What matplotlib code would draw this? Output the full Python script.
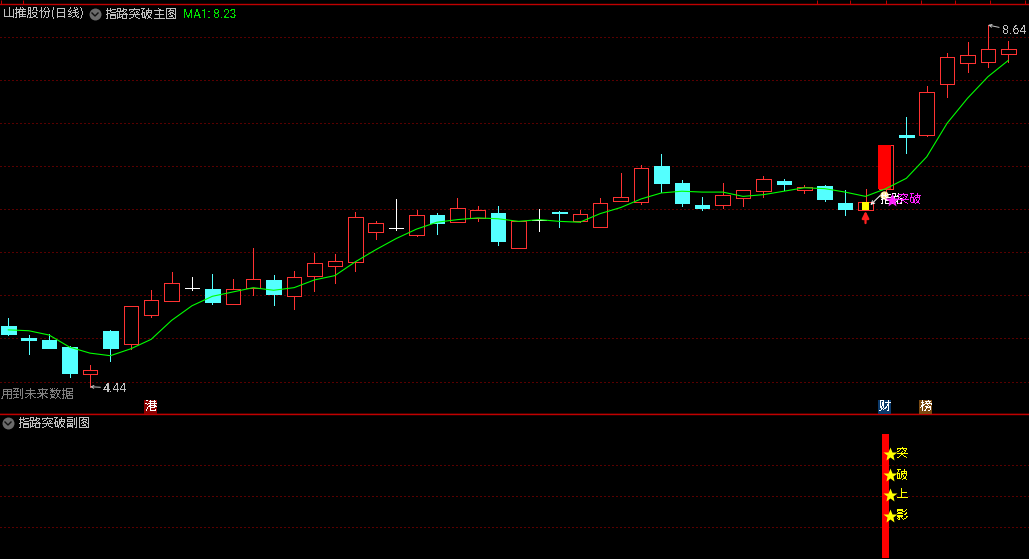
import matplotlib
matplotlib.use("Agg")
import matplotlib.pyplot as plt
from matplotlib.patches import Rectangle

plt.rcParams['font.family'] = ['Noto Sans CJK SC', 'DejaVu Sans']
plt.rcParams['text.antialiased'] = False

# =========================
# DATA
# =========================
opens = [5.15, 5.00, 4.98, 4.90, 4.59, 5.09, 4.94, 5.27, 5.44, 5.59,
         5.57, 5.40, 5.59, 5.68, 5.49, 5.73, 5.84, 5.89, 6.24, 6.28,
         6.20, 6.43, 6.35, 6.40, 6.46, 6.05, 6.38, 6.47, 6.36, 6.29,
         6.60, 6.58, 7.00, 6.80, 6.55, 6.55, 6.63, 6.71, 6.83, 6.72,
         6.77, 6.57, 6.49, 6.74, 7.36, 7.36, 7.95, 8.20, 8.21, 8.30]
highs = [5.24, 5.04, 5.05, 4.91, 4.69, 5.10, 5.38, 5.56, 5.77, 5.71,
         5.75, 5.69, 6.05, 5.74, 5.78, 5.99, 5.98, 6.47, 6.36, 6.62,
         6.49, 6.46, 6.63, 6.54, 6.54, 6.36, 6.50, 6.48, 6.49, 6.63,
         6.92, 7.01, 7.14, 6.84, 6.64, 6.80, 6.72, 6.89, 6.85, 6.78,
         6.78, 6.72, 6.74, 7.25, 7.57, 7.93, 8.31, 8.44, 8.64, 8.45]
lows = [5.04, 4.82, 4.89, 4.55, 4.44, 4.74, 4.88, 5.25, 5.44, 5.56,
        5.40, 5.40, 5.50, 5.39, 5.34, 5.55, 5.64, 5.78, 6.16, 6.26,
        6.19, 6.21, 6.35, 6.36, 6.09, 6.05, 6.25, 6.30, 6.35, 6.29,
        6.60, 6.56, 6.70, 6.54, 6.49, 6.51, 6.54, 6.64, 6.72, 6.69,
        6.60, 6.43, 6.49, 6.70, 7.15, 7.35, 7.80, 8.09, 8.15, 8.21]
closes = [5.05, 4.98, 4.89, 4.60, 4.63, 4.89, 5.38, 5.45, 5.64, 5.59,
          5.42, 5.57, 5.69, 5.52, 5.71, 5.88, 5.90, 6.41, 6.34, 6.28,
          6.43, 6.34, 6.52, 6.49, 6.13, 6.36, 6.38, 6.46, 6.45, 6.57,
          6.64, 6.98, 6.80, 6.57, 6.51, 6.67, 6.72, 6.85, 6.79, 6.76,
          6.62, 6.50, 6.58, 7.25, 7.34, 7.86, 8.27, 8.29, 8.36, 8.36]
ma1 = [5.10, 5.09, 5.04, 4.90, 4.83, 4.80, 4.88, 4.99, 5.21, 5.38,
       5.49, 5.54, 5.59, 5.56, 5.59, 5.68, 5.73, 5.89, 6.03, 6.16,
       6.27, 6.35, 6.38, 6.40, 6.39, 6.36, 6.38, 6.36, 6.35, 6.45,
       6.52, 6.62, 6.69, 6.71, 6.70, 6.70, 6.65, 6.67, 6.71, 6.75,
       6.74, 6.70, 6.65, 6.74, 6.86, 7.11, 7.50, 7.79, 8.04, 8.23]

price_grid = [4.5, 5.0, 5.5, 6.0, 6.5, 7.0, 7.5, 8.0, 8.5]
date_ticks = [-0.36, 0.72, 39.6, 41.25, 43.0, 44.7, 46.4, 48.1, 49.8]

signal_day = 42
big_day = 43
sub_grid = [25, 50, 75]
sub_bar = [0, 100]
star_levels = [84, 67, 51, 34]
star_labels = ["突", "破", "上", "影"]

# =========================
# COLORS
# =========================
BG = "#000000"
RED = "#FF3232"
CYAN = "#54FFFF"
GREEN = "#00FF00"
GRID = "#B00000"
FRAME = "#C00000"
GREY = "#C0C0C0"
PX = 0.72


def dotted(a, level):
    # one pixel on, three off, drawn smooth so the dots stay separate
    a.axhline(level, color=GRID, lw=PX, ls=(0, (1, 3)), zorder=1)


fig = plt.figure(figsize=(10.29, 5.59), dpi=100, facecolor=BG)
ax = fig.add_axes([0, 145 / 559, 1, 410 / 559], facecolor=BG)
sub = fig.add_axes([0, 0, 1, 145 / 559], facecolor=BG)
over = fig.add_axes([0, 0, 1, 1], facecolor="none")

for a in (ax, sub):
    a.set_xlim(-0.407, 50.01)
    a.set_yticks([])
    for s in a.spines.values():
        s.set_visible(False)
    a.set_xticks([])

# =========================
# MAIN PANEL
# =========================
ax.set_ylim(4.123, 8.884)
for side in ("top", "bottom"):
    ax.spines[side].set_visible(True)
    ax.spines[side].set_color(FRAME)
    ax.spines[side].set_linewidth(1.0)
ax.xaxis.tick_top()
ax.set_xticks(date_ticks)
ax.set_xticklabels([])
ax.tick_params(axis="x", color=FRAME, length=3, width=PX, direction="out")

for level in price_grid:
    dotted(ax, level)

BODY = 14.5 / 20.41
for i in range(len(opens)):
    o, h, l, c = opens[i], highs[i], lows[i], closes[i]
    if c == o:
        col = "#FFFFFF"
    elif c > o:
        col = RED
    else:
        col = CYAN
    ax.vlines(i, l, h, color=col, lw=PX, antialiased=False, zorder=2)
    if c == o:
        ax.hlines(c, i - BODY / 2, i + BODY / 2, color=col, lw=PX, antialiased=False, zorder=3)
    elif c > o:
        ax.bar(i, c - o, BODY, bottom=o, facecolor=BG, edgecolor=col, lw=PX,
               antialiased=False, zorder=3)
    else:
        ax.bar(i, o - c, BODY, bottom=c, facecolor=col, edgecolor=col, lw=PX,
               antialiased=False, zorder=3)

# filled signal candles
ax.bar(big_day - 0.06, closes[big_day] - opens[big_day], 12.5 / 20.41, bottom=opens[big_day],
       color="#FF0000", antialiased=False, zorder=4)
ax.bar(signal_day, closes[signal_day] - opens[signal_day], 7 / 20.41, bottom=opens[signal_day],
       color="#FFFF00", antialiased=False, zorder=4)

ax.plot(range(len(ma1)), ma1, color=GREEN, lw=0.8, zorder=5)

# high / low labels
low_i = lows.index(min(lows))
high_i = highs.index(max(highs))
ax.annotate(f"{lows[low_i]:.2f}", xy=(low_i, lows[low_i]), xytext=(9.5, -1), textcoords="offset points",
            color=GREY, fontsize=9, family="Roboto", va="center",
            arrowprops=dict(arrowstyle="->", color=GREY, lw=PX, shrinkA=0, shrinkB=0, mutation_scale=5))
ax.annotate(f"{highs[high_i]:.2f}", xy=(high_i, highs[high_i]), xytext=(10, -4), textcoords="offset points",
            color=GREY, fontsize=9, family="Roboto", va="center",
            arrowprops=dict(arrowstyle="->", color=GREY, lw=PX, shrinkA=0, shrinkB=0, mutation_scale=5))

# signal marks
ax.annotate("", xy=(signal_day, 6.48), xytext=(signal_day, 6.34),
            arrowprops=dict(arrowstyle="-|>", color="#FF2020", lw=1.6, shrinkA=0, shrinkB=0, mutation_scale=10), zorder=6)
ax.annotate("", xy=(signal_day + 0.24, 6.55), xytext=(signal_day + 0.72, 6.66),
            arrowprops=dict(arrowstyle="->", color="#FFFFFF", lw=PX, shrinkA=0, shrinkB=0, mutation_scale=6), zorder=6)
ax.plot([big_day - 0.1], [6.67], marker="o", ms=6, color="#FFE9A0", mec="none", zorder=6)
ax.text(big_day - 0.32, 6.61, "指路", color="#FFFFFF", fontsize=8.8, va="center", ha="left", zorder=7)
ax.plot([big_day + 0.32], [6.61], marker="*", ms=10, color="#FF20FF", mec="none", zorder=8)
ax.text(big_day + 0.56, 6.61, "突破", color="#FF20FF", fontsize=8.8, va="center", ha="left", zorder=8)

# =========================
# SUB PANEL
# =========================
sub.set_ylim(-0.8, 116.1)
sub.spines["top"].set_visible(True)
sub.spines["top"].set_color(FRAME)
sub.spines["top"].set_linewidth(1.0)
for level in sub_grid:
    dotted(sub, level)
sub.bar(big_day - 0.03, sub_bar[1] - sub_bar[0], 7 / 20.41, bottom=sub_bar[0], color="#FF0000",
        antialiased=False, zorder=2)
for level, label in zip(star_levels, star_labels):
    sub.plot([big_day + 0.2], [level], marker="*", ms=10.5, color="#FFFF00", mec="none", zorder=3)
    sub.text(big_day + 0.5, level, label, color="#FFFF00", fontsize=8.8, va="center", ha="left", zorder=3)

# =========================
# HEADER TEXT AND TAGS
# =========================
over.set_xlim(0, 1029)
over.set_ylim(559, 0)
over.axis("off")

over.text(3, 14, "山推股份(日线)", color=GREY, fontsize=8.8, va="center")
over.text(105, 14, "指路突破主图", color=GREY, fontsize=8.8, va="center")
over.text(183, 14, f"MA1: {ma1[-1]:.2f}", color="#00E000", fontsize=8.5, family="Roboto", va="center")
over.text(1, 394, "用到未来数据", color="#808080", fontsize=8.8, va="center")
over.text(18, 423, "指路突破副图", color=GREY, fontsize=8.8, va="center")

for cx, cy in [(95, 14), (8, 423)]:
    over.plot([cx], [cy], marker="o", ms=8.6, color="#6A6A6A", mec="none")
    over.plot([cx - 3, cx, cx + 3], [cy - 1, cy + 2, cy - 1], color="#111111", lw=1.0)

tags = [(144, 400, "港", "#8B0000"), (878, 400, "财", "#0B3A6B"), (919, 400, "榜", "#7A4A12")]
for x0, y0, label, col in tags:
    over.add_patch(Rectangle((x0, y0), 13, 13.5, facecolor=col, edgecolor="none"))
    over.text(x0 + 6.5, y0 + 6.8, label, color="#FFFFFF", fontsize=8.8, ha="center", va="center")

fig.savefig("out.png", dpi=100, facecolor=BG)
